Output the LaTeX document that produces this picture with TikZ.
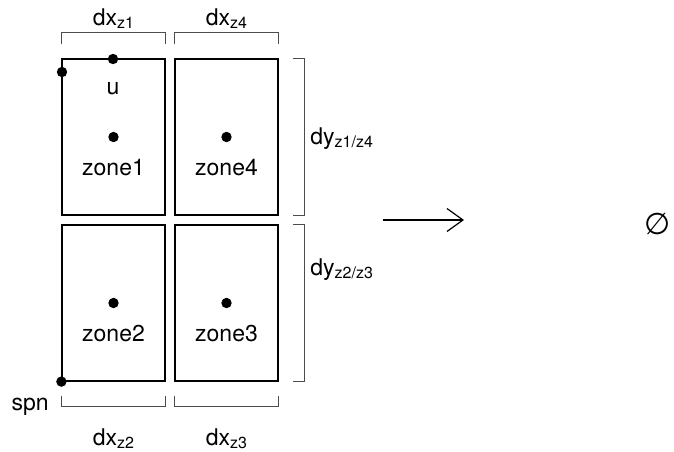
\documentclass[tikz,border=0pt]{standalone}
\usepackage{fontspec}
\setmainfont{TeX Gyre Heros}
\newfontfamily\symfont{DejaVu Sans}
\usetikzlibrary{arrows.meta,calc}
\newcommand{\zsub}[1]{\raisebox{-0.25ex}{\fontsize{8}{9}\selectfont #1}}

\begin{document}
\begin{tikzpicture}[
    x=0.5pt, y=-0.5pt,
    zonebox/.style={draw, line width=0.6pt, minimum width=51.5pt, minimum height=78pt, inner sep=0pt},
    dot/.style={circle, fill, inner sep=0pt, minimum size=5.2pt},
    lbl/.style={font=\fontsize{11.5}{13}\selectfont, inner sep=0pt, anchor=base},
    bracket/.style={draw=black!70, line width=0.45pt},
    arrow/.style={-{Straight Barb[length=8pt,width=11.5pt]}, line width=0.6pt}
]
\useasboundingbox (0,0) rectangle (674,451);
% zones
\node[zonebox] (box1) at (113.5,137) {};
\node[zonebox] (box4) at (226.5,137) {};
\node[zonebox] (box2) at (113.5,303) {};
\node[zonebox] (box3) at (226.5,303) {};
% points
\node[dot] (udot) at (113,59) {};
\node[dot] (ldot) at (62,72) {};
\node[dot] (spndot) at (box2.south west) {};
\node[dot] (c1) at (box1.center) {};
\node[dot] (c4) at (box4.center) {};
\node[dot] (c2) at (box2.center) {};
\node[dot] (c3) at (box3.center) {};
\node[lbl] (u) at (113,94) {u};
\node[lbl] (z1) at ($(c1)+(0,38)$) {zone1};
\node[lbl] (z4) at ($(c4)+(0,38)$) {zone4};
\node[lbl] (z2) at ($(c2)+(0,38)$) {zone2};
\node[lbl] (z3) at ($(c3)+(0,38)$) {zone3};
\node[lbl, anchor=base east] (spn) at (49,410) {spn};
% brackets
\draw[bracket] ($(box1.north west)+(0,-14)$) -- ++(0,-12) -| ($(box1.north east)+(0,-14)$);
\draw[bracket] ($(box4.north west)+(0,-14)$) -- ++(0,-12) -| ($(box4.north east)+(0,-14)$);
\draw[bracket] ($(box2.south west)+(0,14)$) -- ++(0,11) -| ($(box2.south east)+(0,14)$);
\draw[bracket] ($(box3.south west)+(0,14)$) -- ++(0,11) -| ($(box3.south east)+(0,14)$);
\draw[bracket] ($(box4.north east)+(14,0)$) -- ++(12,0) |- ($(box4.south east)+(14,0)$);
\draw[bracket] ($(box3.north east)+(14,0)$) -- ++(12,0) |- ($(box3.south east)+(14,0)$);
\node[lbl] (dx1) at (113.5,25) {dx\zsub{z1}};
\node[lbl] (dx4) at (226.5,25) {dx\zsub{z4}};
\node[lbl] (dx2) at (113.5,445) {dx\zsub{z2}};
\node[lbl] (dx3) at (226.5,445) {dx\zsub{z3}};
\node[lbl, anchor=base west] (dy14) at (310,144) {dy\zsub{z1/z4}};
\node[lbl, anchor=base west] (dy23) at (310,275) {dy\zsub{z2/z3}};
% mapping
\coordinate (from) at (383,220);
\coordinate (to) at (464,220);
\draw[arrow] (from) -- (to);
\node[font=\symfont\fontsize{15}{17}\selectfont] (empty) at (658,224) {∅};
\end{tikzpicture}
\end{document}
